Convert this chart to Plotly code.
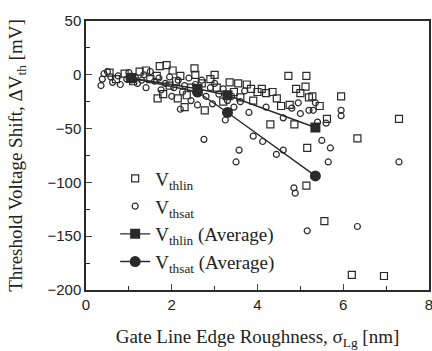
import plotly.graph_objects as go

# V_thlin individual devices (open squares)
lin_x = [0.55, 0.7, 0.9, 1.1, 1.25, 1.4, 1.5, 1.65, 1.72, 1.88, 1.95, 2.02, 2.1, 2.14, 2.2,
         2.35, 2.45, 2.53, 2.55, 2.7, 2.77, 2.9, 3.0, 3.05, 3.2, 3.35, 3.45, 3.55, 3.6, 3.75,
         3.85, 3.9, 4.0, 4.1, 4.2, 4.3, 4.35, 4.45, 4.55, 4.72, 4.9, 5.0, 5.14, 5.12, 5.2,
         5.28, 5.45, 5.62, 5.95, 6.33, 7.3, 5.16, 5.14, 5.56, 6.2, 6.95, 4.86, 4.75, 2.3, 1.8, 1.67]
lin_y = [2, -4, 1, -6, 3, 4, -4, -1, 8, 9, -10, 4, -6, -22, -1,
         -19, -12, 6, 0, -8, -33, -4, 0, -12, -25, -7, -16, -8, -21, -9,
         -13, -24, -16, -13, -17, -46, -16, -22, -29, -1, -13, -17, -1, -11, -21,
         -20, -29, -41, -20, -59, -41, -68, -103, -136, -186, -187, -46, -28, -30, -18, -22]

# V_thsat individual devices (open circles)
sat_x = [0.35, 0.38, 0.42, 0.5, 0.58, 0.62, 0.75, 0.8, 0.95, 1.0, 1.15, 1.2, 1.35, 1.4, 1.5,
         1.6, 1.7, 1.75, 1.85, 1.95, 2.0, 2.05, 2.15, 2.2, 2.25, 2.3, 2.4, 2.45, 2.55, 2.6,
         2.62, 2.7, 2.75, 2.8, 2.9, 2.95, 3.0, 3.1, 3.2, 3.25, 3.3, 3.4, 3.45, 3.5, 3.57,
         3.6, 3.7, 3.9, 3.8, 4.12, 4.44, 4.6, 4.8, 4.95, 5.0, 5.2, 5.3, 5.35, 5.4, 5.6,
         5.95, 5.95, 5.5, 5.7, 5.65, 7.3, 4.85, 4.88, 5.16, 6.33, 4.6, 4.2, 1.3]
sat_y = [-10, -4, 1, 3, -2, -7, -1, -9, -4, 2, -2, -8, 0, -12, 3,
         -6, -3, -14, -8, -2, -20, -12, -5, -32, -16, -10, -3, -24, -9, -28,
         -14, -5, -60, -20, -12, -27, -8, -18, -13, -42, -24, -20, -30, -81, -70,
         -25, -15, -57, -35, -62, -74, -70, -31, -26, -36, -33, -33, -26, -44, -45,
         -33, -38, -61, -68, -81, -81, -105, -110, -145, -141, -40, -30, -5]

# Averages
avg_x = [1.05, 2.6, 3.3, 5.35]
lin_avg = [-3, -13, -19, -49]
sat_avg = [-3, -16, -35, -94]

ink = "#2a2a2a"
fig = go.Figure()
fig.add_trace(go.Scatter(x=lin_x, y=lin_y, mode="markers", name="V<sub>thlin</sub>",
                         marker=dict(symbol="square-open", size=7, color=ink, line=dict(width=1.2))))
fig.add_trace(go.Scatter(x=sat_x, y=sat_y, mode="markers", name="V<sub>thsat</sub>",
                         marker=dict(symbol="circle-open", size=6, color=ink, line=dict(width=1.2))))
fig.add_trace(go.Scatter(x=avg_x, y=lin_avg, mode="lines+markers", name="V<sub>thlin</sub> (Average)",
                         line=dict(color=ink, width=1.4),
                         marker=dict(symbol="square", size=10, color=ink)))
fig.add_trace(go.Scatter(x=avg_x, y=sat_avg, mode="lines+markers", name="V<sub>thsat</sub> (Average)",
                         line=dict(color=ink, width=1.4),
                         marker=dict(symbol="circle", size=11, color=ink)))

serif = "Liberation Serif"
fig.update_layout(
    width=432, height=351,
    margin=dict(l=86, r=3, t=21, b=61),
    paper_bgcolor="white", plot_bgcolor="white",
    font=dict(family=serif, color="#222", size=16),
    showlegend=True,
    legend=dict(x=0.085, y=0.035, xanchor="left", yanchor="bottom",
                bgcolor="rgba(0,0,0,0)", font=dict(family=serif, size=19, color="#222"),
                itemsizing="trace", tracegroupgap=0),
)
fig.update_xaxes(range=[0, 8], dtick=2, tick0=0, ticks="inside", ticklen=6, tickwidth=1.2,
                 showline=True, linecolor=ink, linewidth=1.5, mirror=True, showgrid=False, zeroline=False,
                 automargin=False, ticklabeloverflow="allow",
                 tickfont=dict(family="Liberation Sans", size=15, color="#222"),
                 minor=dict(ticks="inside", ticklen=4, dtick=1, tick0=0, showgrid=False, tickcolor=ink),
                 title=dict(text="Gate Line Edge Roughness, σ<sub>Lg</sub> [nm]",
                            font=dict(family=serif, size=19, color="#222"), standoff=18))
fig.update_yaxes(range=[-200, 50], dtick=50, tick0=0, ticks="inside", ticklen=6, tickwidth=1.2,
                 showline=True, linecolor=ink, linewidth=1.5, mirror=True, showgrid=False, zeroline=False,
                 automargin=False,
                 tickfont=dict(family="Liberation Sans", size=15, color="#222"),
                 minor=dict(ticks="inside", ticklen=4, dtick=25, tick0=0, showgrid=False, tickcolor=ink),
                 title=dict(text="Threshold Voltage Shift, ΔV<sub>th</sub> [mV]",
                            font=dict(family=serif, size=19, color="#222"), standoff=20))

fig.write_html("out.html", config={"displayModeBar": False})

# remove the default page margin so the figure sits at the window's top-left corner
with open("out.html", "r", encoding="utf-8") as f:
    html = f.read()
html = html.replace("<head>", "<head><style>html,body{margin:0;padding:0;overflow:hidden;}</style>", 1)
with open("out.html", "w", encoding="utf-8") as f:
    f.write(html)
